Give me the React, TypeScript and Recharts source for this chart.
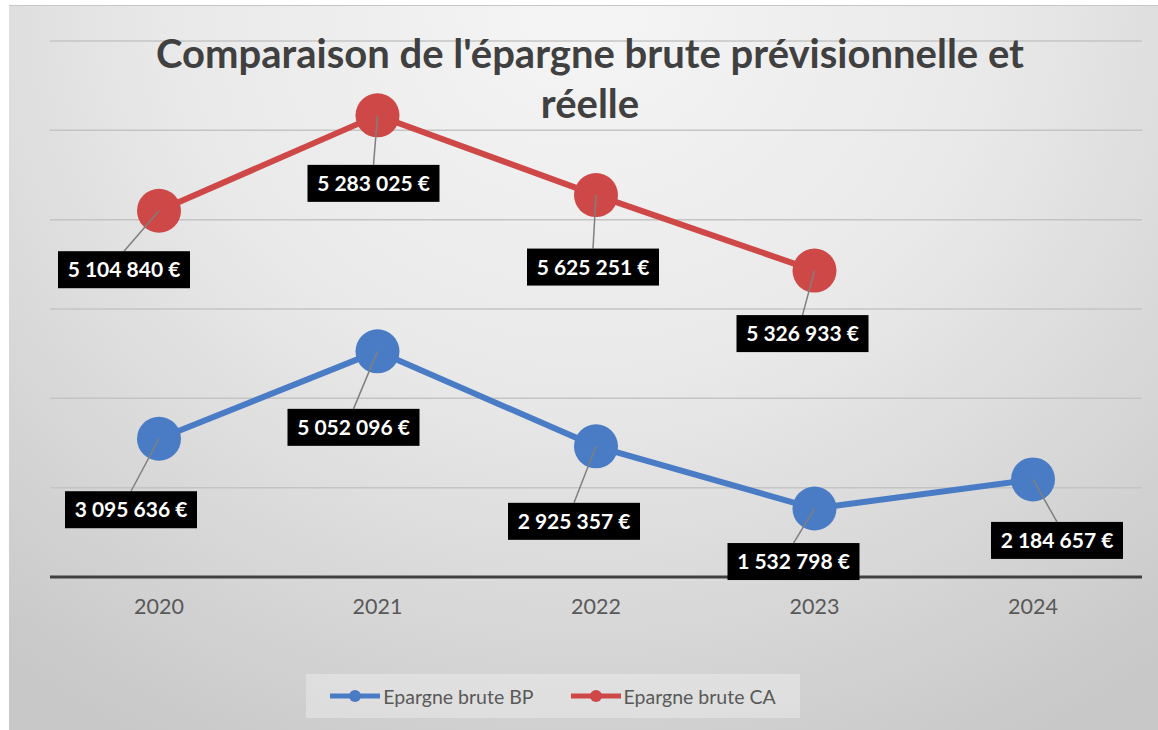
import { AreaChart, Area, XAxis, YAxis, CartesianGrid, LabelList } from 'recharts';

const years = ['2020', '2021', '2022', '2023', '2024'];
const bpValues = [3095636, 5052096, 2925357, 1532798, 2184657];
const caValues: (number | null)[] = [5104840, 5283025, 5625251, 5326933, null];
const yTicks = [0, 2000000, 4000000, 6000000, 8000000, 10000000, 12000000];

const series = [
  { key: 'bp', name: 'Epargne brute BP', color: '#4a7cc5', values: bpValues },
  { key: 'ca', name: 'Epargne brute CA', color: '#cf4848', values: caValues },
];

// where each data label box sits, relative to its point (moved by hand in the original)
const bpLabelOffsets = [[-28, 71], [-24, 76], [-22, 75], [-21, 53], [24, 61]];
const caLabelOffsets = [[-35, 59], [-4, 68], [-3, 72], [-12, 63]];

const data = years.map((year, i) => ({ year, bp: bpValues[i], ca: caValues[i] }));

const FONT = 'Lato, "Open Sans", sans-serif';

const fmt = (v: number) => String(v).replace(/\B(?=(\d{3})+(?!\d))/g, ' ') + ' €';

const makeLabel = (values: (number | null)[], offsets: number[][]) => (props: any) => {
  const { index } = props;
  const x = props.x ?? props.viewBox?.x;
  const y = props.y ?? props.viewBox?.y;
  const v = values[index];
  if (v == null || x == null || y == null || !offsets[index]) return null;
  const [dx, dy] = offsets[index];
  const w = 132;
  const h = 37;
  const cx = x + dx;
  const cy = y + dy;
  return (
    <g key={`lbl-${index}`}>
      <line x1={x} y1={y} x2={cx} y2={cy - h / 2} stroke="#7f7f7f" strokeWidth={1.5} />
      <rect x={cx - w / 2} y={cy - h / 2} width={w} height={h} fill="#000" />
      <text x={cx} y={cy + 7.5} textAnchor="middle" fill="#fff" fontFamily={FONT} fontWeight={700} fontSize={21}>
        {fmt(v)}
      </text>
    </g>
  );
};

const YearTick = (props: any) => {
  const { x, y, payload } = props;
  return (
    <text x={x} y={y + 37} textAnchor="middle" fill="#595959" fontFamily={FONT} fontSize={21.5}>
      {payload.value}
    </text>
  );
};

export default function App() {
  return (
    <div
      style={{
        position: 'absolute',
        left: 9,
        top: 5,
        width: 1149,
        height: 725,
        borderTop: '1px solid #c6c6c6',
        background: 'radial-gradient(ellipse 80% 115% at 50% 0%, #f5f5f5 0%, #e9e9e9 45%, #c8c8c8 100%)',
        fontFamily: FONT,
        overflow: 'hidden',
      }}
    >
      <AreaChart width={1149} height={725} data={data} margin={{ top: 35, right: 16, left: 41, bottom: 114 }}>
        <CartesianGrid vertical={false} stroke="#c4c4c4" strokeWidth={1.5} />
        <XAxis
          dataKey="year"
          height={40}
          padding={{ left: 109, right: 109 }}
          axisLine={{ stroke: '#404040', strokeWidth: 3 }}
          tickLine={false}
          tickSize={0}
          tickMargin={0}
          tick={<YearTick />}
        />
        <YAxis hide domain={[0, 12000000]} ticks={yTicks} />
        <Area
          type="linear"
          dataKey="bp"
          stackId="s"
          stroke={series[0].color}
          strokeWidth={6}
          fill="none"
          dot={{ r: 22, fill: series[0].color, fillOpacity: 1, stroke: 'none' }}
          activeDot={false}
          isAnimationActive={false}
        >
          <LabelList dataKey="bp" content={makeLabel(bpValues, bpLabelOffsets)} />
        </Area>
        <Area
          type="linear"
          dataKey="ca"
          stackId="s"
          stroke={series[1].color}
          strokeWidth={6}
          fill="none"
          dot={{ r: 22, fill: series[1].color, fillOpacity: 1, stroke: 'none' }}
          activeDot={false}
          isAnimationActive={false}
        >
          <LabelList dataKey="ca" content={makeLabel(caValues, caLabelOffsets)} />
        </Area>
      </AreaChart>

      <div
        style={{
          position: 'absolute',
          left: 0,
          top: 22,
          width: 1162,
          textAlign: 'center',
          fontSize: 40,
          fontWeight: 700,
          color: '#404040',
          lineHeight: '50px',
        }}
      >
        Comparaison de l'épargne brute prévisionnelle et
        <br />
        réelle
      </div>

      <div
        style={{
          position: 'absolute',
          left: 297,
          top: 668,
          width: 494,
          height: 44,
          background: 'rgba(255,255,255,0.3)',
          display: 'flex',
          alignItems: 'center',
          justifyContent: 'center',
          gap: 37,
          fontSize: 19.5,
          color: '#595959',
        }}
      >
        {series.map((s) => (
          <div key={s.key} style={{ display: 'flex', alignItems: 'center' }}>
            <svg width={50} height={14} style={{ marginRight: 3 }}>
              <line x1={0} y1={7} x2={50} y2={7} stroke={s.color} strokeWidth={5} strokeLinecap="round" />
              <circle cx={25} cy={7} r={6} fill={s.color} />
            </svg>
            <span>{s.name}</span>
          </div>
        ))}
      </div>
    </div>
  );
}
